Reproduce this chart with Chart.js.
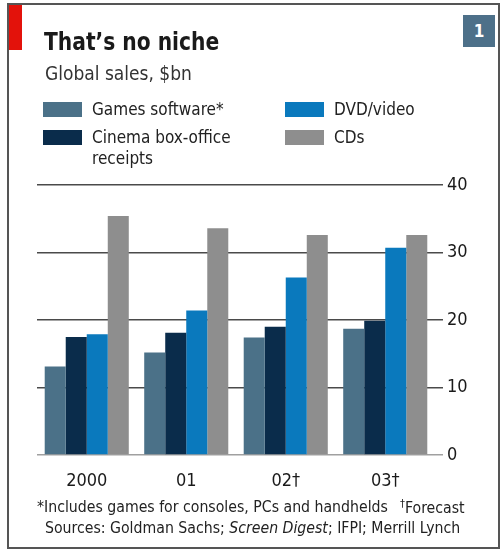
<!DOCTYPE html>
<html>
<head>
<meta charset="utf-8">
<script src="https://cdn.jsdelivr.net/npm/chart.js@4"></script>
<style>
    body {
        margin: 0;
        background: #fff;
        font-family: "DejaVu Sans Condensed", "DejaVu Sans", sans-serif;
        color: #1a1a1a;
    }
    #panel {
        position: relative;
        width: 503px;
        height: 551px;
        overflow: hidden;
    }
    #marco {
        position: absolute;
        left: 7px;
        top: 3px;
        width: 489px;
        height: 542px;
        border: 2px solid #555;
    }
    #marca {
        position: absolute;
        left: 9px;
        top: 5px;
        width: 13px;
        height: 45px;
        background: #e3120b;
    }
    #numero {
        position: absolute;
        left: 463px;
        top: 15px;
        width: 32px;
        height: 32px;
        background: #4d7089;
        color: #fff;
        font-size: 17px;
        font-weight: bold;
        text-align: center;
        line-height: 32px;
    }
    #titulo {
        position: absolute;
        left: 44px;
        top: 27px;
        font-size: 25px;
        font-weight: bold;
        white-space: nowrap;
        transform: scaleX(0.9);
        transform-origin: left top;
    }
    #subtitulo {
        position: absolute;
        left: 45px;
        top: 62px;
        font-size: 19px;
        color: #333;
        white-space: nowrap;
    }
    .leyenda {
        position: absolute;
        font-size: 17px;
        line-height: 21px;
        color: #222;
        white-space: pre-line;
    }
    .muestra {
        position: absolute;
        width: 39px;
        height: 15px;
    }
    .nota {
        position: absolute;
        font-size: 15.7px;
        color: #222;
        white-space: nowrap;
    }
    canvas {
        position: absolute;
        left: 0;
        top: 0;
    }
</style>
</head>
<body>
<div id="panel">
    <canvas id="graficoVentas" width="503" height="551"></canvas>
    <div id="marco"></div>
    <div id="marca"></div>
    <div id="numero">1</div>
    <div id="titulo">That’s no niche</div>
    <div id="subtitulo">Global sales, $bn</div>
    <div id="leyendas"></div>
    <div class="nota" style="left:37px; top:497px;">*Includes games for consoles, PCs and handhelds</div>
    <div class="nota" style="left:400px; top:497px;"><sup style="font-size:11px;">†</sup>Forecast</div>
    <div class="nota" style="left:45px; top:518px;">Sources: Goldman Sachs; <i>Screen Digest</i>; IFPI; Merrill Lynch</div>
</div>

<script>
// ventas globales, miles de millones de dólares
const anios = ["2000", "01", "02†", "03†"];
const juegos = [13.1, 15.2, 17.4, 18.7];
const cine = [17.5, 18.1, 19.0, 19.9];
const dvd = [17.9, 21.4, 26.3, 30.7];
const cds = [35.4, 33.6, 32.6, 32.6];

const series = ["Games software*", "Cinema box-office\nreceipts", "DVD/video", "CDs"];
const colores = ["#4b7188", "#0a2c4b", "#0a79bd", "#8e8e8e"];
const valoresY = [0, 10, 20, 30, 40];

const fuente = "DejaVu Sans Condensed";

// leyenda en dos columnas
const posLeyenda = [
    { x: 43, y: 102 },
    { x: 43, y: 130 },
    { x: 285, y: 102 },
    { x: 285, y: 130 }
];

const contenedor = document.getElementById("leyendas");

series.forEach((nombre, i) => {

    const muestra = document.createElement("div");
    muestra.className = "muestra";
    muestra.style.left = posLeyenda[i].x + "px";
    muestra.style.top = posLeyenda[i].y + "px";
    muestra.style.background = colores[i];
    contenedor.appendChild(muestra);

    const texto = document.createElement("div");
    texto.className = "leyenda";
    texto.style.left = (posLeyenda[i].x + 49) + "px";
    texto.style.top = (posLeyenda[i].y - 3) + "px";
    texto.textContent = nombre;
    contenedor.appendChild(texto);

});

new Chart(

    document.getElementById("graficoVentas"),

    {
        type: "bar",

        data: {
            labels: anios,
            datasets: [juegos, cine, dvd, cds].map((valores, i) => ({
                label: series[i],
                data: valores,
                backgroundColor: colores[i],
                borderWidth: 0,
                categoryPercentage: 0.845,
                barPercentage: 1
            }))
        },

        options: {
            responsive: false,
            animation: false,
            devicePixelRatio: 1,
            layout: {
                padding: { left: 37, top: 185, right: 0, bottom: 0 }
            },
            plugins: {
                legend: { display: false },
                tooltip: { enabled: false }
            },
            scales: {
                x: {
                    grid: { display: false },
                    border: { display: false },
                    ticks: {
                        color: "#1a1a1a",
                        padding: 8,
                        font: { family: fuente, size: 18 }
                    },
                    afterFit: escala => { escala.height = 96; }
                },
                y: {
                    position: "right",
                    min: 0,
                    max: 40,
                    afterBuildTicks: escala => {
                        escala.ticks = valoresY.map(v => ({ value: v }));
                    },
                    grid: {
                        color: ctx => ctx.tick && ctx.tick.value === 0 ? "#a0a0a0" : "#4a4a4a",
                        lineWidth: 1.5,
                        tickLength: 8
                    },
                    border: { display: false },
                    ticks: {
                        color: "#1a1a1a",
                        padding: 4,
                        font: { family: fuente, size: 18 }
                    },
                    afterFit: escala => { escala.width = 68; }
                }
            }
        }
    }
);
</script>
</body>
</html>
